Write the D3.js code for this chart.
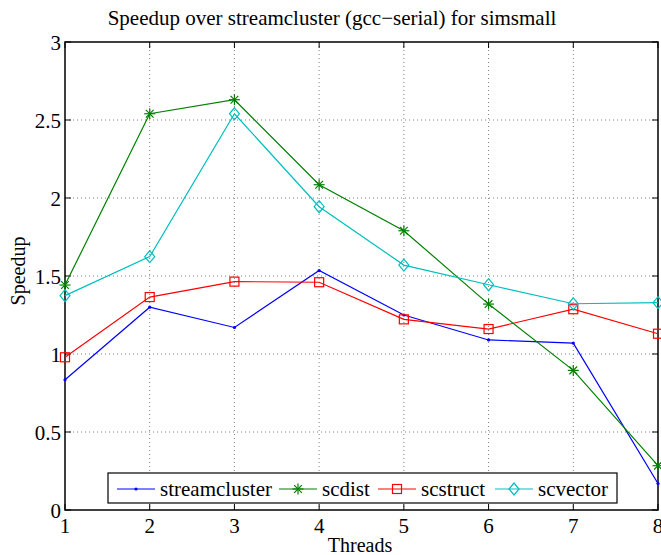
<!DOCTYPE html>
<html>
<head>
<meta charset="utf-8">
<script src="https://cdn.jsdelivr.net/npm/d3@7"></script>
<style>
  html, body { margin: 0; padding: 0; background: #fff; }
  svg { display: block; font-family: "Liberation Serif", "DejaVu Serif", serif; }
</style>
</head>
<body>
<svg id="chart" width="661" height="555"></svg>
<script>
// Thread counts and per-variant speedup values
const threads = [1, 2, 3, 4, 5, 6, 7, 8];
const streamcluster = [0.835, 1.30, 1.17, 1.535, 1.25, 1.09, 1.07, 0.17];
const scdist        = [1.442, 2.54, 2.63, 2.085, 1.79, 1.32, 0.895, 0.284];
const scstruct      = [0.979, 1.365, 1.464, 1.46, 1.222, 1.16, 1.287, 1.13];
const scvector      = [1.374, 1.624, 2.54, 1.944, 1.57, 1.444, 1.322, 1.329];
const yTicks = [0, 0.5, 1, 1.5, 2, 2.5, 3];
const yTickLabels = ["0", "0.5", "1", "1.5", "2", "2.5", "3"];

const series = [
  { name: "streamcluster", values: streamcluster, color: "#0000ff", marker: "dot" },
  { name: "scdist",        values: scdist,        color: "#008000", marker: "star" },
  { name: "scstruct",      values: scstruct,      color: "#ff0000", marker: "square" },
  { name: "scvector",      values: scvector,      color: "#00bfbf", marker: "diamond" }
];

const svg = d3.select("#chart");
const L = 65, R = 658, T = 42, B = 510;

const x = d3.scaleLinear().domain([1, 8]).range([L, R]);
const y = d3.scaleLinear().domain([0, 3]).range([B, T]);

// Dotted grid
const grid = svg.append("g");
grid.selectAll("line.gx").data(threads.slice(1, -1)).join("line")
  .attr("x1", d => x(d)).attr("x2", d => x(d)).attr("y1", T).attr("y2", B)
  .attr("stroke", "#808080").attr("stroke-width", 1).attr("stroke-dasharray", "1,3");
grid.selectAll("line.gy").data(yTicks.slice(1, -1)).join("line")
  .attr("x1", L).attr("x2", R).attr("y1", d => y(d)).attr("y2", d => y(d))
  .attr("stroke", "#808080").attr("stroke-width", 1).attr("stroke-dasharray", "1,3");

// Axes with inward ticks on all four sides
const tickLen = 6;
const axisG = svg.append("g").attr("stroke", "#000").attr("stroke-width", 1);
threads.forEach(t => {
  axisG.append("line").attr("x1", x(t)).attr("x2", x(t)).attr("y1", B).attr("y2", B - tickLen);
  axisG.append("line").attr("x1", x(t)).attr("x2", x(t)).attr("y1", T).attr("y2", T + tickLen);
});
yTicks.forEach(v => {
  axisG.append("line").attr("x1", L).attr("x2", L + tickLen).attr("y1", y(v)).attr("y2", y(v));
  axisG.append("line").attr("x1", R).attr("x2", R - tickLen).attr("y1", y(v)).attr("y2", y(v));
});
svg.append("rect").attr("x", L).attr("y", T).attr("width", R - L).attr("height", B - T)
  .attr("fill", "none").attr("stroke", "#000").attr("stroke-width", 1.5);

// Tick labels
svg.append("g").selectAll("text").data(threads).join("text")
  .attr("x", d => x(d)).attr("y", B + 23).attr("text-anchor", "middle")
  .attr("font-size", 21).text(d => d);
svg.append("g").selectAll("text").data(yTicks).join("text")
  .attr("x", L - 4).attr("y", d => y(d) + 8).attr("text-anchor", "end")
  .attr("font-size", 21).text((d, i) => yTickLabels[i]);

// Titles
svg.append("text").attr("x", 332).attr("y", 25).attr("text-anchor", "middle")
  .attr("font-size", 21).text("Speedup over streamcluster (gcc\u2212serial) for simsmall");
svg.append("text").attr("x", 360).attr("y", 552).attr("text-anchor", "middle")
  .attr("font-size", 20).text("Threads");
svg.append("text").attr("transform", `translate(25,271) rotate(-90)`)
  .attr("text-anchor", "middle").attr("font-size", 20).text("Speedup");

// Marker drawing
function drawMarker(g, type, cx, cy, color) {
  if (type === "dot") {
    g.append("circle").attr("cx", cx).attr("cy", cy).attr("r", 1.6).attr("fill", color);
  } else if (type === "star") {
    const s = 5.5;
    const p = g.append("g").attr("stroke", color).attr("stroke-width", 1.2);
    p.append("line").attr("x1", cx - s).attr("x2", cx + s).attr("y1", cy).attr("y2", cy);
    p.append("line").attr("x1", cx).attr("x2", cx).attr("y1", cy - s).attr("y2", cy + s);
    p.append("line").attr("x1", cx - s * 0.7).attr("x2", cx + s * 0.7).attr("y1", cy - s * 0.7).attr("y2", cy + s * 0.7);
    p.append("line").attr("x1", cx - s * 0.7).attr("x2", cx + s * 0.7).attr("y1", cy + s * 0.7).attr("y2", cy - s * 0.7);
  } else if (type === "square") {
    g.append("rect").attr("x", cx - 4.5).attr("y", cy - 4.5).attr("width", 9).attr("height", 9)
      .attr("fill", "none").attr("stroke", color).attr("stroke-width", 1.2);
  } else if (type === "diamond") {
    g.append("path").attr("d", `M${cx},${cy - 6}L${cx + 5},${cy}L${cx},${cy + 6}L${cx - 5},${cy}Z`)
      .attr("fill", "none").attr("stroke", color).attr("stroke-width", 1.2);
  }
}

// Series lines and markers
const line = d3.line().x((d, i) => x(threads[i])).y(d => y(d));
series.forEach(s => {
  const g = svg.append("g");
  g.append("path").attr("d", line(s.values)).attr("fill", "none")
    .attr("stroke", s.color).attr("stroke-width", 1.2);
  s.values.forEach((v, i) => drawMarker(g, s.marker, x(threads[i]), y(v), s.color));
});

// Legend
const legend = svg.append("g");
legend.append("rect").attr("x", 108).attr("y", 473).attr("width", 509).attr("height", 30)
  .attr("fill", "#fff").attr("stroke", "#000").attr("stroke-width", 1.2);
const legendPos = [117, 279, 378, 495];
series.forEach((s, i) => {
  const lx = legendPos[i], ly = 489;
  legend.append("line").attr("x1", lx).attr("x2", lx + 38).attr("y1", ly).attr("y2", ly)
    .attr("stroke", s.color).attr("stroke-width", 1.2);
  drawMarker(legend, s.marker, lx + 19, ly, s.color);
  legend.append("text").attr("x", lx + 43).attr("y", ly + 7).attr("font-size", 21).text(s.name);
});
</script>
</body>
</html>
